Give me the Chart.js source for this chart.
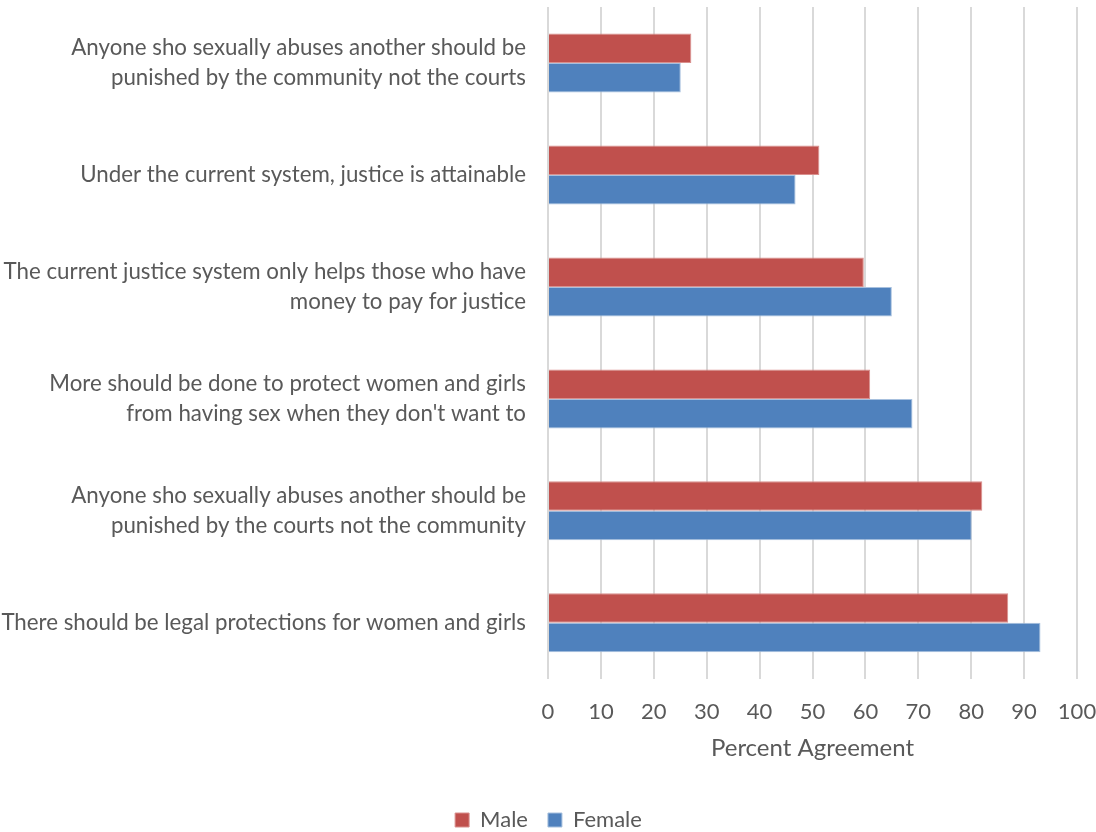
<!DOCTYPE html>
<html>
<head>
<meta charset="utf-8">
<script src="https://cdn.jsdelivr.net/npm/chart.js@4/dist/chart.umd.min.js"></script>
<style>
  html, body { margin: 0; padding: 0; background: #fff; }
  #wrap { width: 1096px; height: 832px; }
</style>
</head>
<body>
<div id="wrap"><canvas id="agreeChart"></canvas></div>
<script>
/* ===== DATA ===== */
const statements = [
  ["Anyone sho sexually abuses another should be", "punished by the community not the courts"],
  ["Under the current system, justice is attainable"],
  ["The current justice system only helps those who have", "money to pay for justice"],
  ["More should be done to protect women and girls", "from having sex when they don't want to"],
  ["Anyone sho sexually abuses another should be", "punished by the courts not the community"],
  ["There should be legal protections for women and girls"]
];
const maleValues = [27.1, 51.3, 59.7, 60.9, 82.1, 87.0];
const femaleValues = [25.1, 46.8, 65.0, 68.9, 80.1, 93.1];
const xTicks = [0, 10, 20, 30, 40, 50, 60, 70, 80, 90, 100];

const textGrey = "#595959";
const font = "Lato, 'Open Sans', sans-serif";

// nudge the legend a bit right of the canvas centre
const legendShift = {
  id: "legendShift",
  afterLayout(chart) {
    if (chart.legend) {
      chart.legend.left += 10;
      chart.legend.right += 10;
    }
  }
};

/* ===== CHART ===== */
new Chart(document.getElementById("agreeChart"), {
  type: "bar",
  data: {
    labels: statements,
    datasets: [
      {
        label: "Male",
        data: maleValues,
        backgroundColor: "#C0504D",
        borderColor: "#D9908E",
        borderWidth: 1
      },
      {
        label: "Female",
        data: femaleValues,
        backgroundColor: "#4F81BD",
        borderColor: "#A7C0DE",
        borderWidth: 1
      }
    ]
  },
  plugins: [legendShift],
  options: {
    indexAxis: "y",
    responsive: true,
    maintainAspectRatio: false,
    animation: false,
    datasets: {
      bar: { categoryPercentage: 0.527, barPercentage: 1 }
    },
    // legend sits a little lower than its box allows, hence the negative bottom
    layout: { padding: { top: 7, right: 19, bottom: -9, left: 0 } },
    scales: {
      x: {
        min: 0,
        max: 100,
        afterBuildTicks: axis => { axis.ticks = xTicks.map(v => ({ value: v })); },
        grid: { color: "#D9D9D9", lineWidth: 2, drawTicks: false },
        border: { display: false },
        ticks: { color: textGrey, font: { family: font, size: 22 }, padding: 20 },
        title: {
          display: true,
          text: "Percent Agreement",
          color: textGrey,
          font: { family: font, size: 24 },
          padding: { top: -11, bottom: 26 }
        },
        afterFit: scale => { scale.paddingLeft = 0; scale.paddingRight = 0; }
      },
      y: {
        grid: { display: false, drawTicks: false },
        border: { display: false },
        ticks: { color: textGrey, font: { family: font, size: 22.3, lineHeight: 1.32 }, padding: 22 },
        afterFit: scale => {
          scale.width = 548;
          scale.paddingTop = 0;
          scale.paddingBottom = 0;
        }
      }
    },
    plugins: {
      legend: {
        position: "bottom",
        labels: {
          color: textGrey,
          font: { family: font, size: 22 },
          boxWidth: 14,
          boxHeight: 14,
          padding: 20
        }
      },
      tooltip: { enabled: false }
    }
  }
});
</script>
</body>
</html>
